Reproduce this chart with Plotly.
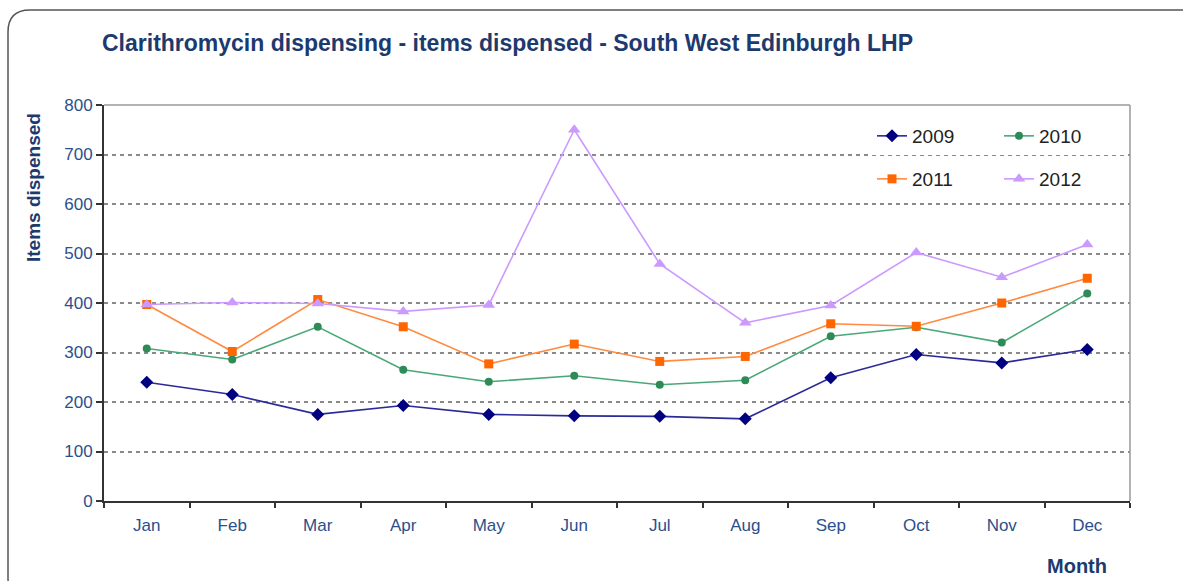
import plotly.graph_objects as go

months = ["Jan", "Feb", "Mar", "Apr", "May", "Jun", "Jul", "Aug", "Sep", "Oct", "Nov", "Dec"]
items_2009 = [240, 215, 175, 193, 175, 172, 171, 166, 249, 296, 279, 306]
items_2010 = [308, 286, 352, 265, 241, 253, 235, 244, 333, 351, 320, 419]
items_2011 = [397, 302, 407, 352, 277, 317, 282, 292, 358, 353, 400, 450]
items_2012 = [397, 401, 399, 383, 396, 750, 479, 360, 395, 502, 452, 518]
y_ticks = [0, 100, 200, 300, 400, 500, 600, 700, 800]

W, H = 1183, 581
ML, MR, MT, MB = 104, 53, 105, 80
PW, PH = W - ML - MR, H - MT - MB

FONT = "Arial, Liberation Sans, sans-serif"
NAVY = "#1c3a6e"
TICK = "#2b4f8c"


def px(x):
    return (x - ML) / PW


def py(y):
    return (H - MB - y) / PH


fig = go.Figure()

series = [
    ("2009", items_2009, "#000080", "#2a2a9a", "diamond", 10, "legend"),
    ("2010", items_2010, "#2e8b57", "#4aa878", "circle", 8, "legend"),
    ("2011", items_2011, "#ff6600", "#ff8a40", "square", 9, "legend2"),
    ("2012", items_2012, "#cc99ff", "#cc99ff", "triangle-up", 11, "legend2"),
]
for name, vals, mcol, lcol, sym, size, leg in series:
    fig.add_trace(go.Scatter(
        x=months, y=vals, name=name, mode="lines+markers",
        line=dict(color=lcol, width=1.6),
        marker=dict(symbol=sym, size=size, color=mcol),
        legend=leg,
    ))

legend_common = dict(
    orientation="h", bgcolor="white", borderwidth=0,
    font=dict(family=FONT, size=19, color="#222222"),
    xanchor="left", yanchor="middle", entrywidth=82,
)

# rounded outer frame
r = 22
x0, y0, x1, y1 = 8, 10, 1205, 600
frame_path = (
    f"M {px(x0)},{py(y0 + r)} "
    f"Q {px(x0)},{py(y0)} {px(x0 + r)},{py(y0)} "
    f"L {px(x1 - r)},{py(y0)} "
    f"Q {px(x1)},{py(y0)} {px(x1)},{py(y0 + r)} "
    f"L {px(x1)},{py(y1 - r)} "
    f"Q {px(x1)},{py(y1)} {px(x1 - r)},{py(y1)} "
    f"L {px(x0 + r)},{py(y1)} "
    f"Q {px(x0)},{py(y1)} {px(x0)},{py(y1 - r)} Z"
)

fig.update_layout(
    width=W, height=H,
    margin=dict(l=ML, r=MR, t=MT, b=MB),
    paper_bgcolor="white", plot_bgcolor="white",
    font=dict(family=FONT),
    showlegend=True,
    legend=dict(x=px(872), y=py(136), **legend_common),
    legend2=dict(x=px(872), y=py(179), **legend_common),
    xaxis=dict(
        type="category", tickson="boundaries",
        ticks="outside", ticklen=5, tickwidth=1.5, tickcolor="#333333",
        showline=True, linecolor="#333333", linewidth=2,
        showgrid=False, ticklabelstandoff=8,
        tickfont=dict(family=FONT, size=17, color=TICK),
        range=[-0.5, 11.5],
    ),
    yaxis=dict(
        range=[0, 800], tickvals=y_ticks,
        ticks="outside", ticklen=6, tickwidth=1.5, tickcolor="#333333",
        showline=True, linecolor="#333333", linewidth=2,
        showgrid=True, gridcolor="#8a8a8a", griddash="4px,4px", gridwidth=1.5,
        tickfont=dict(family=FONT, size=17, color=TICK),
        zeroline=False,
    ),
    shapes=[
        dict(type="path", path=frame_path, xref="paper", yref="paper",
             line=dict(color="#555555", width=1.5), layer="below"),
        dict(type="line", xref="paper", yref="paper", x0=0, x1=1, y0=1, y1=1,
             line=dict(color="#999999", width=1.5)),
        dict(type="line", xref="paper", yref="paper", x0=1, x1=1, y0=0, y1=1,
             line=dict(color="#999999", width=1.5)),
    ],
    annotations=[
        dict(text="<b>Clarithromycin dispensing - items dispensed - South West Edinburgh LHP</b>",
             xref="paper", yref="paper", x=px(100), y=py(43),
             xanchor="left", yanchor="middle", showarrow=False,
             font=dict(family=FONT, size=23, color=NAVY)),
        dict(text="<b>Items dispensed</b>", textangle=-90,
             xref="paper", yref="paper", x=px(33), y=py(188),
             xanchor="center", yanchor="middle", showarrow=False,
             font=dict(family=FONT, size=19, color=NAVY)),
        dict(text="<b>Month</b>",
             xref="paper", yref="paper", x=px(1077), y=py(566),
             xanchor="center", yanchor="middle", showarrow=False,
             font=dict(family=FONT, size=20, color=NAVY)),
    ],
)

fig.write_html("out.html")
